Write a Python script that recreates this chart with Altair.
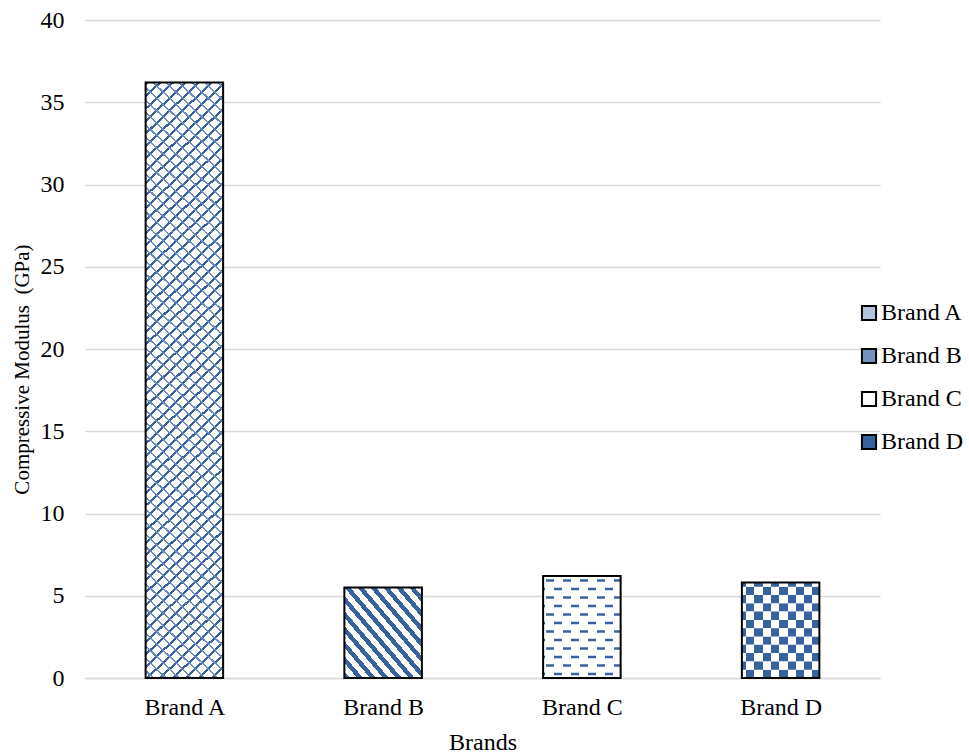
import json
import math

import altair as alt
import numpy as np
import pandas as pd

# ---- data -------------------------------------------------------------
brands = ["Brand A", "Brand B", "Brand C", "Brand D"]
modulus = [36.2, 5.5, 6.2, 5.8]  # GPa
legend_fills = ["#b4c4dc", "#7591bd", "#ffffff", "#38629c"]
y_ticks = [0, 5, 10, 15, 20, 25, 30, 35, 40]

# ---- layout / style ---------------------------------------------------
W, H = 795, 658
Y_MAX = 40
PX_X = W / len(brands)      # pixels per category unit
PX_Y = H / Y_MAX            # pixels per GPa
HALF = 0.195                # half bar width, category units
BLUE = "#38629c"
WHITE = "#ffffff"
CLEAR = "rgba(255,255,255,0)"
FONT = "Liberation Serif"
FS = 24

bars = pd.DataFrame({"brand": brands, "value": modulus})
bars["pos"] = np.arange(len(brands)) + 0.5
bars["x0"] = bars["pos"] - HALF
bars["x1"] = bars["pos"] + HALF


def stripe_stops(n_periods, duty, phase, on, off):
    """Hard-edged gradient stops producing n_periods stripes over [0, 1]."""
    p = 1.0 / n_periods
    segs = []
    k = -2
    while True:
        s = (k + phase) * p
        if s > 1:
            break
        e = s + duty * p
        segs.append((s, e, on))
        segs.append((e, s + p, off))
        k += 1
    stops = []
    for a, b, c in segs:
        a2, b2 = max(a, 0.0), min(b, 1.0)
        if b2 <= a2:
            continue
        stops.append({"offset": round(a2, 5), "color": c})
        stops.append({"offset": round(b2, 5), "color": c})
    return stops


def linear(stops, x1, y1, x2, y2):
    return {"gradient": "linear", "stops": stops,
            "x1": x1, "y1": y1, "x2": x2, "y2": y2}


def row_of(brand):
    return bars[bars["brand"] == brand].iloc[0]


# Brand A: diamond lattice drawn in equal tiles up the bar
ra = row_of("Brand A")
n_tiles = round(ra["value"] * PX_Y / (2 * HALF * PX_X))
tiles_a = pd.DataFrame({
    "x0": ra["x0"], "x1": ra["x1"],
    "y0": [ra["value"] * k / n_tiles for k in range(n_tiles)],
    "y1": [ra["value"] * (k + 1) / n_tiles for k in range(n_tiles)],
})

# Brand B: one tile, diagonal stripes
rb = row_of("Brand B")
tiles_b = pd.DataFrame({"x0": [rb["x0"]], "x1": [rb["x1"]],
                        "y0": [0.0], "y1": [rb["value"]]})

# Brand C: staggered rows of short dashes
rc = row_of("Brand C")
pitch = 8.5 / PX_Y
thick = 2.6 / PX_Y
centre = rc["value"] - 4.5 / PX_Y
c_rows = []
k = 0
while centre - thick / 2 > 0.05:
    c_rows.append({"x0": rc["x0"], "x1": rc["x1"], "y0": centre - thick / 2,
                   "y1": centre + thick / 2, "parity": k % 2})
    centre -= pitch
    k += 1
rows_c = pd.DataFrame(c_rows)

# Brand D: checkerboard as alternating rows of square cells
rd = row_of("Brand D")
cell = 8.3 / PX_Y
n_rows = math.ceil(rd["value"] / cell)
rows_d = pd.DataFrame({
    "x0": rd["x0"], "x1": rd["x1"],
    "y0": [k * cell for k in range(n_rows)],
    "y1": [min((k + 1) * cell, rd["value"]) for k in range(n_rows)],
    "parity": [k % 2 for k in range(n_rows)],
})

# gradients
grad_a_up = linear(stripe_stops(12, 0.24, 0.0, BLUE, WHITE), 0, 0, 1, 1)
grad_a_down = linear(stripe_stops(12, 0.17, 0.5, "#6d8cbb", CLEAR), 0, 1, 1, 0)
grad_b = linear(stripe_stops(12, 0.45, 0.0, BLUE, WHITE), 0, 1, 1, 0)
bar_px = 2 * HALF * PX_X
dash_periods = bar_px / 17.0
grad_c0 = linear(stripe_stops(dash_periods, 0.49, 0.15, BLUE, CLEAR), 0, 0, 1, 0)
grad_c1 = linear(stripe_stops(dash_periods, 0.49, 0.65, BLUE, CLEAR), 0, 0, 1, 0)
cells = bar_px / 8.3
grad_d0 = linear(stripe_stops(cells / 2, 0.5, 0.25, BLUE, WHITE), 0, 0, 1, 0)
grad_d1 = linear(stripe_stops(cells / 2, 0.5, 0.75, BLUE, WHITE), 0, 0, 1, 0)

# ---- scales / axes ----------------------------------------------------
x_scale = alt.Scale(domain=[0, len(brands)], nice=False, zero=False)
y_scale = alt.Scale(domain=[0, Y_MAX], nice=False)

x_axis = alt.Axis(
    values=list(bars["pos"]),
    labelExpr=f"{json.dumps(brands)}[floor(datum.value)]",
    grid=False, ticks=False,
    domainColor="#d9d9d9", domainWidth=1.5,
    labelFont=FONT, labelFontSize=FS, labelColor="black", labelPadding=17,
    title="Brands", titleFont=FONT, titleFontSize=FS, titleFontWeight="normal",
    titleColor="black", titleX=W / 2, titleY=71, titleBaseline="alphabetic",
)
y_axis = alt.Axis(
    values=y_ticks, grid=True, gridColor="#d9d9d9", gridWidth=1.5,
    domain=False, ticks=False,
    labelFont=FONT, labelFontSize=FS, labelColor="black", labelPadding=21,
    title="Compressive Modulus\u00a0 (GPa)", titleFont=FONT, titleFontSize=21,
    titleFontWeight="normal", titleColor="black",
    titleX=-57, titleY=H / 2 + 20, titleAngle=-90, titleBaseline="alphabetic",
)


def rect_layer(df, **mark):
    return alt.Chart(df).mark_rect(**mark).encode(
        x=alt.X("x0:Q", scale=x_scale),
        x2="x1:Q",
        y=alt.Y("y0:Q", scale=y_scale),
        y2="y1:Q",
    )


base = alt.Chart(bars).mark_rect().encode(
    x=alt.X("x0:Q", scale=x_scale, axis=x_axis),
    x2="x1:Q",
    y=alt.Y("value:Q", scale=y_scale, axis=y_axis),
    y2=alt.datum(0),
    fill=alt.Fill(
        "brand:N",
        scale=alt.Scale(domain=brands, range=legend_fills),
        legend=alt.Legend(
            title=None, orient="none", legendX=772, legendY=281,
            symbolType="square", symbolSize=200,
            symbolStrokeColor="black", symbolStrokeWidth=2,
            labelFont=FONT, labelFontSize=FS, labelColor="black",
            labelOffset=0, rowPadding=19,
        ),
    ),
)

cover = alt.Chart(bars).mark_rect(fill=WHITE).encode(
    x=alt.X("x0:Q", scale=x_scale), x2="x1:Q",
    y=alt.Y("value:Q", scale=y_scale), y2=alt.datum(0),
)

outline = alt.Chart(bars).mark_rect(
    filled=False, stroke="black", strokeWidth=2
).encode(
    x=alt.X("x0:Q", scale=x_scale), x2="x1:Q",
    y=alt.Y("value:Q", scale=y_scale), y2=alt.datum(0),
)

layers = [
    base,
    cover,
    rect_layer(tiles_a, fill=grad_a_up),
    rect_layer(tiles_a, fill=grad_a_down),
    rect_layer(tiles_b, fill=grad_b),
    rect_layer(rows_c[rows_c["parity"] == 0], fill=grad_c0),
    rect_layer(rows_c[rows_c["parity"] == 1], fill=grad_c1),
    rect_layer(rows_d[rows_d["parity"] == 0], fill=grad_d0),
    rect_layer(rows_d[rows_d["parity"] == 1], fill=grad_d1),
    outline,
]

chart = (
    alt.layer(*layers)
    .properties(
        width=W, height=H,
        autosize=alt.AutoSizeParams(type="none"),
        padding={"left": 85, "top": 20, "right": 89, "bottom": 78},
        background="white",
    )
    .configure(font=FONT)
    .configure_view(stroke="transparent", strokeWidth=0)
    .configure_axisX(grid=False)
    .configure_axisY(domain=False)
)

chart.save("out.html", embed_options={"renderer": "svg", "actions": False})
